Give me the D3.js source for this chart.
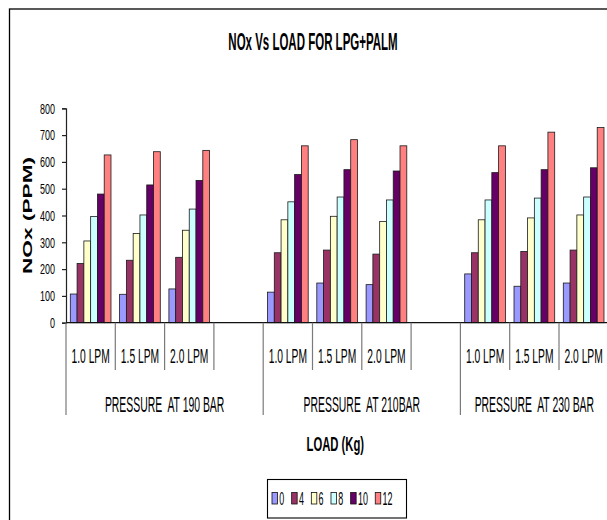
<!DOCTYPE html>
<html>
<head>
<meta charset="utf-8">
<script src="https://cdn.jsdelivr.net/npm/d3@7"></script>
<style>
  html, body { margin: 0; padding: 0; background: #fff; }
  svg { display: block; }
  text { font-family: "Liberation Sans", Arial, sans-serif; white-space: pre; fill: #000; }
</style>
</head>
<body>
<svg id="chart" width="607" height="520"></svg>
<script>
// Category slots along the x axis (empty slots separate the pressure groups)
const slotLabels = ["1.0 LPM", "1.5 LPM", "2.0 LPM", "",
                    "1.0 LPM", "1.5 LPM", "2.0 LPM", "",
                    "1.0 LPM", "1.5 LPM", "2.0 LPM"];
// Which slot index each data column sits in
const dataSlots = [0, 1, 2, 4, 5, 6, 8, 9, 10];
// Outer grouping labels and the slot spans they cover
const groupLabels = ["PRESSURE  AT 190 BAR", "PRESSURE  AT 210BAR", "PRESSURE  AT 230 BAR"];
const groupStart = [0, 4, 8];
const groupEnd = [4, 8, 11];

// Load series (kg)
const loads = ["0", "4", "6", "8", "10", "12"];

// NOx (PPM) per load, one value per data column
const nox0  = [107, 106, 126, 114, 148, 142, 182, 136, 148];
const nox4  = [221, 233, 244, 261, 271, 256, 261, 266, 271];
const nox6  = [305, 333, 345, 384, 397, 378, 384, 391, 402];
const nox8  = [396, 402, 424, 451, 469, 458, 458, 465, 469];
const nox10 = [480, 514, 531, 553, 571, 566, 560, 571, 578];
const nox12 = [626, 638, 643, 660, 683, 660, 660, 711, 728];
const seriesValues = [nox0, nox4, nox6, nox8, nox10, nox12];

const yTicks = [0, 100, 200, 300, 400, 500, 600, 700, 800];

const colors = ["#9999FF", "#993366", "#FFFFCC", "#CCFFFF", "#660066", "#FF8080"];

const svg = d3.select("#chart");

// Chart frame
svg.append("rect")
  .attr("x", 9.5).attr("y", 9)
  .attr("width", 700).attr("height", 600)
  .attr("fill", "none").attr("stroke", "#000").attr("stroke-width", 1.3);

// Helper: horizontally condensed text
function label(g, x, y, str, opts) {
  const sx = opts.sx || 0.5;
  return g.append("text")
    .attr("transform", `translate(${x},${y}) scale(${sx},1)`)
    .attr("text-anchor", opts.anchor || "middle")
    .attr("font-size", opts.size)
    .attr("font-weight", opts.bold ? "bold" : "normal")
    .text(str);
}

// Scales
const plotLeft = 66, slotW = 49.3;
const x0 = d3.scaleBand()
  .domain(d3.range(slotLabels.length))
  .range([plotLeft, plotLeft + slotW * slotLabels.length])
  .paddingInner(0).paddingOuter(0);
const x1 = d3.scaleBand()
  .domain(loads)
  .range([0, x0.bandwidth()])
  .paddingInner(0).paddingOuter(0.635);
const y = d3.scaleLinear().domain([0, 800]).range([322.7, 108.3]);

// Title
label(svg, 313, 49.5, "NOx Vs LOAD FOR LPG+PALM", { size: 23, bold: true, sx: 0.5 });

// Bars
const rows = dataSlots.map((s, i) => ({ slot: s, vals: seriesValues.map(v => v[i]) }));
const gBars = svg.append("g");
rows.forEach(r => {
  gBars.selectAll(null)
    .data(r.vals.map((v, k) => ({ v, k })))
    .join("rect")
    .attr("x", d => x0(r.slot) + x1(loads[d.k]))
    .attr("y", d => y(d.v))
    .attr("width", x1.bandwidth())
    .attr("height", d => y(0) - y(d.v))
    .attr("fill", d => colors[d.k])
    .attr("stroke", "#1a1a1a")
    .attr("stroke-width", 0.8);
});

// Y axis
const yAxis = d3.axisLeft(y).tickValues(yTicks).tickSize(4).tickFormat("");
const gY = svg.append("g").attr("transform", `translate(${plotLeft},0)`).call(yAxis);
gY.select(".domain").attr("stroke", "#222").attr("stroke-width", 1.2);
gY.selectAll(".tick line").attr("stroke", "#222").attr("stroke-width", 1.2);
yTicks.forEach(t => label(svg, 55, y(t) + 5.2, String(t), { size: 14.5, sx: 0.62, anchor: "end" }));

// Y axis title
svg.append("text")
  .attr("transform", `translate(27,${(y(0) + y(800)) / 2}) rotate(-90) scale(1.8,1)`)
  .attr("text-anchor", "middle")
  .attr("dy", "0.36em")
  .attr("font-size", 12.6)
  .attr("font-weight", "bold")
  .text("NOx (PPM)");

// X axis baseline
svg.append("line")
  .attr("x1", plotLeft).attr("x2", x0.range()[1])
  .attr("y1", y(0)).attr("y2", y(0))
  .attr("stroke", "#111").attr("stroke-width", 1.3);

// Category dividers: short between slots, long at group boundaries
const gX = svg.append("g");
d3.range(slotLabels.length + 1).forEach(i => {
  const xx = plotLeft + slotW * i;
  const long = groupStart.includes(i) || i === slotLabels.length;
  gX.append("line")
    .attr("x1", xx).attr("x2", xx)
    .attr("y1", y(0)).attr("y2", long ? 415 : 370)
    .attr("stroke", "#7a7a7a").attr("stroke-width", 1.2);
});
slotLabels.forEach((s, i) => {
  if (s) label(gX, x0(i) + x0.bandwidth() / 2, 362.5, s, { size: 21, sx: 0.49 });
});
groupLabels.forEach((g, i) => {
  const cx = (x0(groupStart[i]) + plotLeft + slotW * groupEnd[i]) / 2;
  label(gX, cx, 411.5, g, { size: 21.5, sx: 0.485 });
});

// X axis title
label(svg, 335.3, 450.5, "LOAD (Kg)", { size: 20.5, bold: true, sx: 0.55 });

// Legend
const gL = svg.append("g");
gL.append("rect")
  .attr("x", 267.5).attr("y", 479.5).attr("width", 139).attr("height", 38.5)
  .attr("fill", "#fff").attr("stroke", "#000").attr("stroke-width", 1.1);
let cursor = 272;
loads.forEach((l, k) => {
  gL.append("rect")
    .attr("x", cursor).attr("y", 492.5).attr("width", 5.5).attr("height", 11.5)
    .attr("fill", colors[k]).attr("stroke", "#111").attr("stroke-width", 0.8);
  const t = label(gL, cursor + 7.3, 505, l, { size: 17.5, sx: 0.51, anchor: "start" });
  const w = t.node().getComputedTextLength() * 0.51;
  cursor += 7.3 + w + 7.4;
});
</script>
</body>
</html>
